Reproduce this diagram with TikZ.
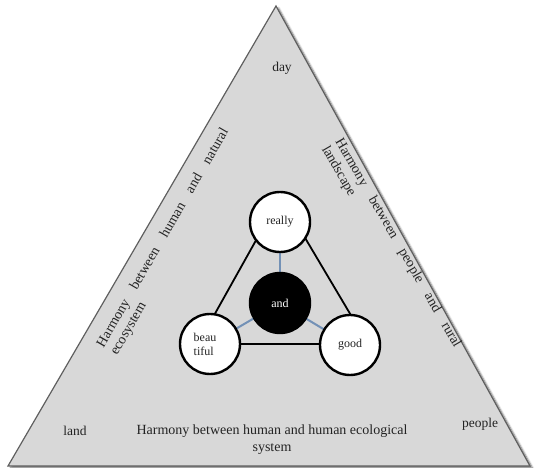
\documentclass[tikz,border=0pt]{standalone}
\usepackage{fontspec}
\setmainfont{Liberation Serif}
\usetikzlibrary{shadows.blur}
\pgfdeclarelayer{base}
\pgfdeclarelayer{links}
\pgfsetlayers{base,links,main}
\definecolor{trifill}{RGB}{216,216,216}
\definecolor{triedge}{RGB}{95,95,95}
\definecolor{linkc}{RGB}{115,145,182}
\definecolor{ink}{RGB}{35,35,35}
\begin{document}
\begin{tikzpicture}[x=1pt,y=-1pt,
  lbl/.style={font=\fontsize{13.5}{16}\selectfont, inner sep=0pt, text=ink},
  slant/.style={font=\fontsize{14}{15.5}\selectfont, inner sep=0pt, text=ink, align=left},
  ball/.style={circle, draw=black, line width=2.4pt, fill=white, minimum size=60pt, inner sep=0pt, font=\fontsize{12}{14}\selectfont, text=ink},
  hub/.style={ball, fill=black, text=white},
  link/.style={draw=linkc, line width=2pt},
  frame/.style={draw=black, line width=1.8pt}]
\useasboundingbox (0,0) rectangle (536,468);
% outer triangle
\coordinate (apex) at (276,6);
\coordinate (bl) at (8,466);
\coordinate (br) at (530,466);
\begin{pgfonlayer}{base}
\draw[fill=trifill, draw=triedge, line width=1.2pt,
  blur shadow={shadow xshift=2.5pt, shadow yshift=-2pt, shadow blur steps=6, shadow opacity=55}]
  (apex) -- (br) -- (bl) -- cycle;
\end{pgfonlayer}
% labels
\node[lbl] (day) at (282,68) {day};
\node[lbl] (land) at (75,431) {land};
\node[lbl] (people) at (480,424) {people};
\node[lbl, font=\fontsize{14}{17}\selectfont, align=center] (sys) at (272,440)
  {Harmony between human and human ecological\\system};
\node[slant, rotate=60] (nat) at (170,242)
  {\makebox[250pt][s]{Harmony between human and natural}\\ecosystem};
\node[slant, rotate=-60] (rur) at (391,247)
  {\makebox[239pt][s]{Harmony between people and rural}\\landscape};
% inner circles
\node[ball] (really) at (280,222) {really};
\node[hub] (and) at (280,303) {and};
\node[ball, align=left] (beau) at (210,344) {\hspace*{-10pt}beau\\\hspace*{-10pt}tiful};
\node[ball] (good) at (350,345) {good};
% connectors
\coordinate (t1) at (280.5,196.5);
\coordinate (t2) at (198,344);
\coordinate (t3) at (368,344);
\begin{pgfonlayer}{links}
\draw[link] (and.center) -- (really.center);
\draw[link] (and.center) -- (beau.center);
\draw[link] (and.center) -- (good.center);
\draw[frame] (t1) -- (t2) -- (t3) -- cycle;
\end{pgfonlayer}
\end{tikzpicture}
\end{document}
